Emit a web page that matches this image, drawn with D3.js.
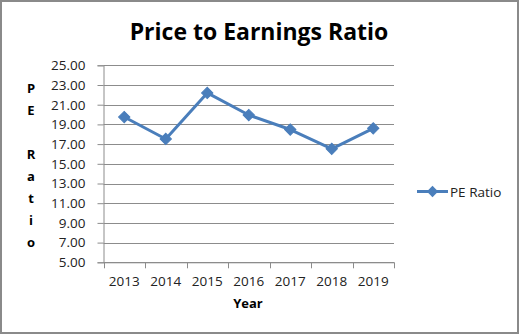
<!DOCTYPE html>
<html>
<head>
<meta charset="utf-8">
<script src="https://cdn.jsdelivr.net/npm/d3@7"></script>
<style>
  html, body { margin: 0; padding: 0; background: #fff; }
  svg { display: block; }
  text { font-family: "Open Sans", "Noto Sans", sans-serif; }
</style>
</head>
<body>
<svg id="chart" width="519" height="334"></svg>
<script>
// P/E ratio by fiscal year
const years = ["2013", "2014", "2015", "2016", "2017", "2018", "2019"];
const peRatio = [19.75, 17.52, 22.2, 19.95, 18.48, 16.52, 18.6];
const yTicks = [5, 7, 9, 11, 13, 15, 17, 19, 21, 23, 25];
const yTitleLetters = ["P", "E", " ", "R", "a", "t", "i", "o"];
const seriesName = "PE Ratio";
const chartTitle = "Price to Earnings Ratio";

const W = 519, H = 334;
const plot = { left: 103.5, right: 394, top: 65.3, bottom: 262.3 };
const lineColor = "#4a7ebb";
const gridColor = "#8c8c8c";

const svg = d3.select("#chart");

// outer frame
svg.append("rect")
  .attr("x", 1).attr("y", 1)
  .attr("width", W - 2).attr("height", H - 2)
  .attr("fill", "#fff")
  .attr("stroke", "#8a8a8a")
  .attr("stroke-width", 2);

const x = d3.scaleBand().domain(years).range([plot.left, plot.right]).padding(0);
const y = d3.scaleLinear().domain([5, 25]).range([plot.bottom, plot.top]);

// horizontal gridlines
svg.append("g")
  .selectAll("line")
  .data(yTicks)
  .join("line")
  .attr("x1", plot.left).attr("x2", plot.right)
  .attr("y1", d => Math.round(y(d)) + 0.5)
  .attr("y2", d => Math.round(y(d)) + 0.5)
  .attr("stroke", gridColor)
  .attr("stroke-width", 1);

// y axis
const yAxis = svg.append("g")
  .attr("transform", `translate(${plot.left},0)`)
  .call(d3.axisLeft(y).tickValues(yTicks).tickFormat(d3.format(".2f")).tickSize(6).tickPadding(12));
yAxis.select(".domain").attr("stroke", gridColor);
yAxis.selectAll(".tick line").attr("stroke", gridColor);
yAxis.selectAll(".tick text")
  .attr("font-size", 13.5).attr("fill", "#222")
  .attr("font-family", "'Open Sans', sans-serif");

// x axis with ticks between categories
const xAxisG = svg.append("g")
  .attr("transform", `translate(0,${plot.bottom})`);
xAxisG.append("line")
  .attr("x1", plot.left).attr("x2", plot.right)
  .attr("y1", 0.5).attr("y2", 0.5)
  .attr("stroke", gridColor);
const boundaries = years.map(d => x(d)).concat([x(years[years.length - 1]) + x.bandwidth()]);
xAxisG.selectAll("line.tk")
  .data(boundaries)
  .join("line")
  .attr("class", "tk")
  .attr("x1", d => Math.round(d) + 0.5).attr("x2", d => Math.round(d) + 0.5)
  .attr("y1", 0).attr("y2", 6)
  .attr("stroke", gridColor);
xAxisG.selectAll("text")
  .data(years)
  .join("text")
  .attr("x", d => x(d) + x.bandwidth() / 2)
  .attr("y", 24)
  .attr("text-anchor", "middle")
  .attr("font-size", 13.5)
  .attr("fill", "#222")
  .text(d => d);

// series line
const line = d3.line()
  .x((d, i) => x(years[i]) + x.bandwidth() / 2)
  .y(d => y(d));
svg.append("path")
  .datum(peRatio)
  .attr("d", line)
  .attr("fill", "none")
  .attr("stroke", lineColor)
  .attr("stroke-width", 3)
  .attr("stroke-linejoin", "round");

// diamond markers
const diamond = d3.symbol().type(d3.symbolSquare).size(64);
svg.append("g")
  .selectAll("path")
  .data(peRatio)
  .join("path")
  .attr("d", diamond)
  .attr("transform", (d, i) => `translate(${x(years[i]) + x.bandwidth() / 2},${y(d)}) rotate(45)`)
  .attr("fill", lineColor)
  .attr("stroke", lineColor)
  .attr("stroke-width", 1);

// title
svg.append("text")
  .attr("x", 259).attr("y", 40)
  .attr("text-anchor", "middle")
  .attr("font-size", 23)
  .attr("font-weight", "bold")
  .attr("fill", "#000")
  .text(chartTitle);

// x axis title
svg.append("text")
  .attr("x", 248).attr("y", 308)
  .attr("text-anchor", "middle")
  .attr("font-size", 13)
  .attr("font-weight", "bold")
  .attr("fill", "#000")
  .text("Year");

// y axis title, stacked letters
svg.append("g")
  .selectAll("text")
  .data(yTitleLetters)
  .join("text")
  .attr("x", 31)
  .attr("y", (d, i) => 93 + i * 22)
  .attr("text-anchor", "middle")
  .attr("font-size", 13)
  .attr("font-weight", "bold")
  .attr("fill", "#000")
  .text(d => d);

// legend
const lg = svg.append("g").attr("transform", "translate(417,191.5)");
lg.append("line")
  .attr("x1", 0).attr("x2", 31)
  .attr("y1", 0).attr("y2", 0)
  .attr("stroke", lineColor).attr("stroke-width", 3);
lg.append("path")
  .attr("d", diamond)
  .attr("transform", "translate(15.5,0) rotate(45)")
  .attr("fill", lineColor);
lg.append("text")
  .attr("x", 33).attr("y", 5)
  .attr("font-size", 13.5)
  .attr("fill", "#222")
  .text(seriesName);
</script>
</body>
</html>
